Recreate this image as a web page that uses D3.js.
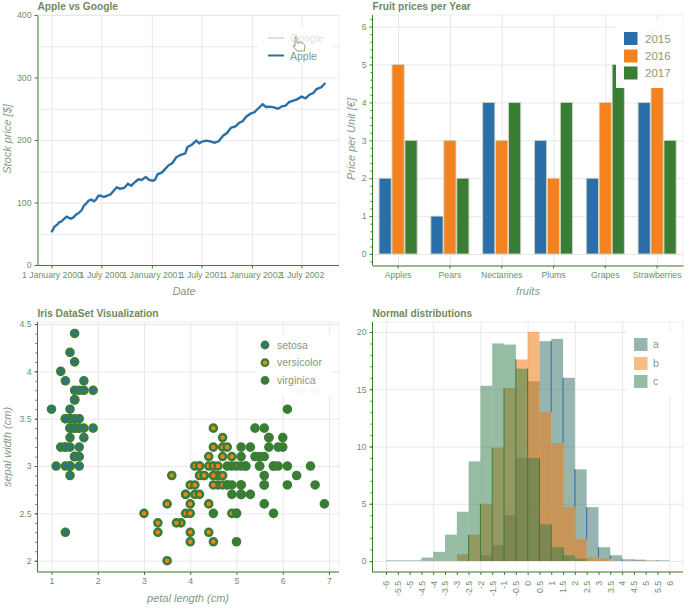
<!DOCTYPE html>
<html><head><meta charset="utf-8">
<script src="https://cdn.jsdelivr.net/npm/d3@7/dist/d3.min.js"></script>
<style>
html,body{margin:0;padding:0;background:#fff}
svg{display:block;font-family:"Liberation Sans",Arial,sans-serif}
.title{font-weight:bold;font-size:10.2px;fill:#6f8a5c}
.axlab{font-style:italic;font-size:11px;fill:#7f9a86}
.tick text{font-size:8.7px;fill:#6f8f6a}
.domain,.tick line{stroke:#3f7d2e}
.leg{font-size:10.5px;fill:#7f9a80}
</style></head><body><svg id="c" width="700" height="613"></svg>
<script>
// Panel 1: Apple stock
const appleDays=[0,6,12,21,28,37,45,55,62,70,79,89,101,111,118,126,135,145,155,162,171,180,191,204,216,228,238,250,265,279,291,305,317,329,344,356,370,378,387,402,417,427,441,455,470,488,496,512,528,539,549,565,579,594,610,626,640,655,671,684,698,710,726,740,752,770,783,796,811,826,841,854,867,882,896,912,927,941,955,967,984,999];
const appleValues=[52.3,57.6,61.9,64.5,68.3,69.9,73.6,77.3,75.7,74.1,75.7,80.5,83.7,88.5,94.9,98.1,102.9,104.5,101.9,104.5,110.9,110.9,108.8,110.9,113,119.5,124.3,122.1,123.2,130.1,126.9,132.8,137.1,136,140.8,136,134.9,136.5,145.1,147.7,154.7,159.5,163.2,172.3,176,178.7,188.8,192.5,198.9,194.7,197.3,198.9,197.9,195.7,197.9,206.9,211.2,219.7,221.9,227.2,230.4,237.3,242.1,244.3,249.6,257.1,252.8,253.3,252.3,250.1,253.9,254.9,260.8,262.9,265,269.3,266.7,272.5,275.2,281.6,284.3,291.2];
const stockTickDates=["2000-01-01","2000-07-01","2001-01-01","2001-07-01","2002-01-01","2002-07-01"];
const stockTickLabels=["1 January 2000","1 July 2000","1 January 2001","1 July 2001","1 January 2002","1 July 2002"];
const stockSeries=["Google","Apple"];
// Panel 2: fruit prices
const fruits=["Apples","Pears","Nectarines","Plums","Grapes","Strawberries"];
const years=["2015","2016","2017"];
const prices2015=[2,1,4,3,2,4];
const prices2016=[5,3,3,2,4,6];
const prices2017=[3,2,4,4,5,3];
// Panel 3: iris [petal length, sepal width]
const setosa=[[1.4,3.5],[1.4,3.0],[1.3,3.2],[1.5,3.1],[1.4,3.6],[1.7,3.9],[1.4,3.4],[1.5,3.4],[1.4,2.9],[1.5,3.1],[1.5,3.7],[1.6,3.4],[1.4,3.0],[1.1,3.0],[1.2,4.0],[1.5,4.4],[1.3,3.9],[1.4,3.5],[1.7,3.8],[1.5,3.8],[1.7,3.4],[1.5,3.7],[1.0,3.6],[1.7,3.3],[1.9,3.4],[1.6,3.0],[1.6,3.4],[1.5,3.5],[1.4,3.4],[1.6,3.2],[1.6,3.1],[1.5,3.4],[1.5,4.1],[1.4,4.2],[1.5,3.1],[1.2,3.2],[1.3,3.5],[1.5,3.1],[1.3,3.0],[1.5,3.4],[1.3,3.5],[1.3,2.3],[1.3,3.2],[1.6,3.5],[1.9,3.8],[1.4,3.0],[1.6,3.8],[1.4,3.2],[1.5,3.7],[1.4,3.3]];
const versicolor=[[4.7,3.2],[4.5,3.2],[4.9,3.1],[4.0,2.3],[4.6,2.8],[4.5,2.8],[4.7,3.3],[3.3,2.4],[4.6,2.9],[3.9,2.7],[3.5,2.0],[4.2,3.0],[4.0,2.2],[4.7,2.9],[3.6,2.9],[4.4,3.1],[4.5,3.0],[4.1,2.7],[4.5,2.2],[3.9,2.5],[4.8,3.2],[4.0,2.8],[4.9,2.5],[4.7,2.8],[4.3,2.9],[4.4,3.0],[4.8,2.8],[5.0,3.0],[4.5,2.9],[3.5,2.6],[3.8,2.4],[3.7,2.4],[3.9,2.7],[5.1,2.7],[4.5,3.0],[4.5,3.4],[4.7,3.1],[4.4,2.3],[4.1,3.0],[4.0,2.5],[4.4,2.6],[4.6,3.0],[4.0,2.6],[3.3,2.3],[4.2,2.7],[4.2,3.0],[4.2,2.9],[4.3,2.9],[3.0,2.5],[4.1,2.8]];
const virginica=[[6.0,3.3],[5.1,2.7],[5.9,3.0],[5.6,2.9],[5.8,3.0],[6.6,3.0],[4.5,2.5],[6.3,2.9],[5.8,2.5],[6.1,3.6],[5.1,3.2],[5.3,2.7],[5.5,3.0],[5.0,2.5],[5.1,2.8],[5.3,3.2],[5.5,3.0],[6.7,3.8],[6.9,2.6],[5.0,2.2],[5.7,3.2],[4.9,2.8],[6.7,2.8],[4.9,2.7],[5.7,3.3],[6.0,3.2],[4.8,2.8],[4.9,3.0],[5.6,2.8],[5.8,3.0],[6.1,2.8],[6.4,3.8],[5.6,2.8],[5.1,2.8],[5.6,2.6],[6.1,3.0],[5.6,3.4],[5.5,3.1],[4.8,3.0],[5.4,3.1],[5.6,3.1],[5.1,3.1],[5.1,2.7],[5.9,3.2],[5.7,3.3],[5.2,3.0],[5.0,2.5],[5.2,3.0],[5.4,3.4],[5.1,3.0]];
const irisNames=["setosa","versicolor","virginica"];
// Panel 4: histograms, bin edges and counts
const binEdges=[-6,-5.5,-5,-4.5,-4,-3.5,-3,-2.5,-2,-1.5,-1,-0.5,0,0.5,1,1.5,2,2.5,3,3.5,4,4.5,5,5.5,6];
const histA=[0,0,0,0,0,0,0,0,0.5,1.4,4,9,15.7,19.2,19.4,16,8,4.7,1.2,0.5,0.15,0.12,0.06,0.06];
const histB=[0,0,0,0,0,0,0.6,2.3,5,9.9,15.1,17.6,20,13,10.3,4.7,1.9,0.3,0.2,0,0,0.05,0,0];
const histC=[0.06,0.06,0.06,0.3,0.8,2.3,4.3,8.7,15.3,19,18.9,16.8,9,3.2,1.2,0.5,0.2,0,0,0,0,0,0,0];
const histNames=["a","b","c"];

const BLUE="#2b6fa8",ORANGE="#f58220",GREEN="#3a7d34",GRID="#e8e8e8";
const svg=d3.select("#c");

function frame(x0,x1,y0,y1,title){
  const g=svg.append("g");
  g.append("rect").attr("x",x0).attr("y",y0).attr("width",x1-x0).attr("height",y1-y0)
    .attr("fill","none").attr("stroke","#eeeeee");
  svg.append("text").attr("class","title").attr("x",x0).attr("y",y0-5).text(title);
  return g;
}
function gridH(g,sc,vals,x0,x1){
  g.selectAll(null).data(vals).join("line").attr("x1",x0).attr("x2",x1)
   .attr("y1",d=>sc(d)+.5).attr("y2",d=>sc(d)+.5).attr("stroke",GRID);
}
function gridV(g,sc,vals,y0,y1){
  g.selectAll(null).data(vals).join("line").attr("y1",y0).attr("y2",y1)
   .attr("x1",d=>sc(d)+.5).attr("x2",d=>sc(d)+.5).attr("stroke",GRID);
}
function axes(ax,tx,ty){ return svg.append("g").attr("transform",`translate(${tx},${ty})`).call(ax); }
function xLabel(x,y,t){ svg.append("text").attr("class","axlab").attr("x",x).attr("y",y).attr("text-anchor","middle").text(t); }
function yLabel(x,y,t){ svg.append("text").attr("class","axlab").attr("transform",`translate(${x},${y}) rotate(-90)`).attr("text-anchor","middle").text(t); }
function legendBox(x,y,w,h){ svg.append("rect").attr("x",x).attr("y",y).attr("width",w).attr("height",h).attr("fill","#fff").attr("fill-opacity",.97); }
function minor(sc,vals,tx,ty){
  axes(d3.axisLeft(sc).tickValues(vals).tickSize(2).tickFormat("").tickSizeOuter(0),tx,ty).select(".domain").remove();
}

// ---------- Panel 1
{
  const L=37.5,R=339,T=15,B=265.5;
  const x=d3.scaleTime().domain([new Date(2000,0,1),new Date(2002,6,1)]).range([51.5,301.5]);
  const y=d3.scaleLinear().domain([0,400]).range([265,15]);
  const g=frame(L,R,T,B,"Apple vs Google");
  const dates=stockTickDates.map(d=>d3.timeParse("%Y-%m-%d")(d));
  gridH(g,y,d3.range(0,401,50),L,R);
  gridV(g,x,dates,T,B);
  const line=d3.line().x((d,i)=>x(d3.timeDay.offset(new Date(2000,0,1),appleDays[i]))).y(d=>y(d));
  svg.append("path").attr("d",line(appleValues)).attr("fill","none").attr("stroke",BLUE).attr("stroke-width",2.4);
  axes(d3.axisLeft(y).tickValues([0,100,200,300,400]).tickSize(3).tickSizeOuter(0),L,0);
  const xa=axes(d3.axisBottom(x).tickValues(dates).tickSize(3).tickSizeOuter(0).tickFormat((d,i)=>stockTickLabels[i]),0,B);
  xa.select(".domain").attr("d",`M${L},0H${R}`);
  xLabel(184,295,"Date"); yLabel(11,139,"Stock price [$]");
  legendBox(258,27,74,38);
  const ly=[38,55.5];
  svg.selectAll(null).data(stockSeries).join("line").attr("x1",268).attr("x2",284).attr("y1",(d,i)=>ly[i]).attr("y2",(d,i)=>ly[i])
    .attr("stroke",(d,i)=>i?BLUE:"#d8d4c0").attr("stroke-width",(d,i)=>i?2:1.5);
  svg.selectAll(null).data(stockSeries).join("text").attr("class","leg").attr("x",290).attr("y",(d,i)=>ly[i]+4)
    .attr("fill-opacity",(d,i)=>i?1:.3).text(d=>d);
  svg.append("path").attr("transform","translate(293,37)")
    .attr("d","M2,0 C3,-1 4,0 4,1 L4,6 L6,6 L6,5 L8,5 L8,6 L10,6 C11,7 12,8 12,10 L11.5,14 L4,14 L0,9 L1.5,8 L2,9 Z")
    .attr("fill","#fff").attr("stroke","#7f9a60").attr("stroke-width",.9);
}

// ---------- Panel 2
{
  const L=372.5,R=683,T=15,B=265.5;
  const x=d3.scaleBand().domain(fruits).range([372.2,683]);
  const y=d3.scaleLinear().domain([0,6]).range([254,26.6]);
  const g=frame(L,R,T,B,"Fruit prices per Year");
  gridH(g,y,d3.range(0,7),L,R);
  gridV(g,d=>x(d)+x.bandwidth()/2,fruits,T,B);
  const sets=[prices2015,prices2016,prices2017],cols=[BLUE,ORANGE,GREEN];
  const w=x.bandwidth()*.235;
  sets.forEach((vals,k)=>{
    svg.selectAll(null).data(vals).join("rect")
      .attr("x",(d,i)=>x(fruits[i])+x.bandwidth()/2+(k-1)*x.bandwidth()*.25-w/2)
      .attr("y",d=>y(d)).attr("width",w).attr("height",d=>y(0)-y(d))
      .attr("fill",cols[k]).attr("stroke","#d4d6c8").attr("stroke-width",.9);
  });
  const la=axes(d3.axisLeft(y).tickValues(d3.range(0,7)).tickSize(3).tickSizeOuter(0).tickFormat(d3.format("d")),L,0);
  la.select(".domain").attr("d",`M0,${T}V${B}`);
  minor(y,d3.range(-.2,6.3,.2).filter(v=>Math.abs(v-Math.round(v))>.01),L,0);
  axes(d3.axisBottom(x).tickSize(3).tickSizeOuter(0),0,B);
  xLabel(528,295,"fruits"); yLabel(355,139,"Price per Unit [\u20ac]");
  legendBox(616,20,67,68);
  const ly=[32,49.5,66.5];
  svg.selectAll(null).data(years).join("rect").attr("x",624).attr("y",(d,i)=>ly[i]).attr("width",13.5).attr("height",13)
    .attr("fill",(d,i)=>cols[i]);
  svg.selectAll(null).data(years).join("text").attr("class","leg").attr("x",645).attr("y",(d,i)=>ly[i]+10.5)
    .style("font-size","11.5px").style("fill","#8a9a78").text(d=>d);
}

// ---------- Panel 3
{
  const L=37.5,R=339,T=322,B=572;
  const x=d3.scaleLinear().domain([1,7]).range([51.5,329]);
  const y=d3.scaleLinear().domain([2,4.5]).range([560.7,324]);
  const g=frame(L,R,T,B,"Iris DataSet Visualization");
  gridH(g,y,[2,2.5,3,3.5,4,4.5],L,R);
  gridV(g,x,d3.range(1,8),T,B);
  const cols=[BLUE,ORANGE,GREEN];
  [setosa,versicolor,virginica].forEach((pts,k)=>{
    svg.selectAll(null).data(pts).join("circle").attr("cx",d=>x(d[0])).attr("cy",d=>y(d[1])).attr("r",3.5)
      .attr("fill",cols[k]).attr("stroke",GREEN).attr("stroke-width",2.6);
  });
  const la=axes(d3.axisLeft(y).tickValues([2,2.5,3,3.5,4,4.5]).tickSize(3).tickSizeOuter(0).tickFormat(d3.format("~g")),L,0);
  la.select(".domain").attr("d",`M0,${T}V${B}`);
  minor(y,d3.range(2,4.51,.1),L,0);
  const ba=axes(d3.axisBottom(x).tickValues(d3.range(1,8)).tickSize(3).tickSizeOuter(0).tickFormat(d3.format("d")),0,B);
  ba.select(".domain").attr("d",`M${L},0H${R}`);
  xLabel(188,602,"petal length (cm)"); yLabel(11,447,"sepal width (cm)");
  legendBox(257,334,74,62);
  const ly=[345,362.7,380.3];
  svg.selectAll(null).data(irisNames).join("circle").attr("cx",265).attr("cy",(d,i)=>ly[i]).attr("r",3.3)
    .attr("fill",(d,i)=>cols[i]).attr("stroke",GREEN).attr("stroke-width",2.2);
  svg.selectAll(null).data(irisNames).join("text").attr("class","leg").attr("x",277).attr("y",(d,i)=>ly[i]+3.5).text(d=>d);
}

// ---------- Panel 4
{
  const L=372.5,R=683,T=322,B=572;
  const x=d3.scaleLinear().domain([-6,6]).range([386,669.3]);
  const y=d3.scaleLinear().domain([0,20]).range([561,332]);
  const g=frame(L,R,T,B,"Normal distributions");
  gridH(g,y,[0,5,10,15,20],L,R);
  gridV(g,x,[-6,-4,-2,0,2,4,6],T,B);
  const hs=[histA,histB,histC],cols=["#2d6b5d","#f27a12","#2f7a4a"];
  hs.forEach((vals,k)=>{
    svg.selectAll(null).data(vals).join("rect")
      .attr("x",(d,i)=>x(binEdges[i])).attr("width",(d,i)=>x(binEdges[i+1])-x(binEdges[i]))
      .attr("y",d=>y(d)).attr("height",d=>y(0)-y(d)).attr("fill",cols[k]).attr("fill-opacity",k==1?.55:.5);
  });
  // dark seams between neighbouring bins
  const edges=d3.range(1,binEdges.length-1);
  svg.selectAll(null).data(edges.filter(i=>Math.min(histA[i-1],histA[i])>Math.max(histB[i-1],histB[i])))
    .join("line").attr("x1",i=>x(binEdges[i])).attr("x2",i=>x(binEdges[i]))
    .attr("y1",i=>y(Math.min(histA[i-1],histA[i]))).attr("y2",i=>y(Math.max(histB[i-1],histB[i])))
    .attr("stroke",BLUE).attr("stroke-width",1);
  svg.selectAll(null).data(edges.filter(i=>Math.min(Math.max(histB[i-1],histB[i]),Math.max(histC[i-1],histC[i]))>1))
    .join("line").attr("x1",i=>x(binEdges[i])).attr("x2",i=>x(binEdges[i]))
    .attr("y1",i=>y(Math.min(Math.max(histB[i-1],histB[i]),Math.max(histC[i-1],histC[i])))).attr("y2",y(0))
    .attr("stroke",GREEN).attr("stroke-width",1);
  const la=axes(d3.axisLeft(y).tickValues([0,5,10,15,20]).tickSize(3).tickSizeOuter(0),L,0);
  la.select(".domain").attr("d",`M0,${T}V${B}`);
  minor(y,d3.range(0,21,1),L,0);
  const ba=axes(d3.axisBottom(x).tickValues(binEdges).tickSize(3).tickSizeOuter(0).tickFormat(d=>String(d)),0,B);
  ba.select(".domain").attr("d",`M${L},0H${R}`);
  ba.selectAll(".tick text").attr("transform","rotate(-90)").attr("text-anchor","end").attr("x",-9).attr("y",0).attr("dy","0.32em");
  legendBox(627,331,56,64);
  const ly=[338,357,375];
  svg.selectAll(null).data(histNames).join("rect").attr("x",634).attr("y",(d,i)=>ly[i]).attr("width",13.5).attr("height",13)
    .attr("fill",(d,i)=>cols[i]).attr("fill-opacity",.5);
  svg.selectAll(null).data(histNames).join("text").attr("class","leg").attr("x",653).attr("y",(d,i)=>ly[i]+9.5).text(d=>d);
}
</script></body></html>
